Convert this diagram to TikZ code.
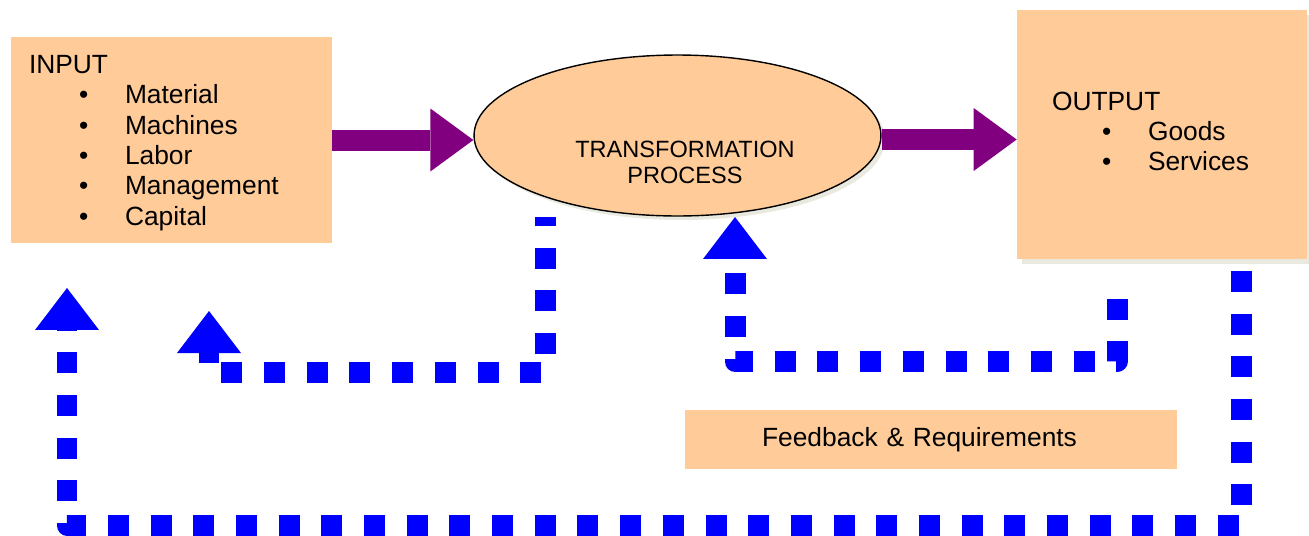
\documentclass[tikz,border=0pt]{standalone}
\usepackage{fontspec}
\setmainfont{Liberation Sans}
\usepackage{tikz}
\usetikzlibrary{arrows.meta}
\usetikzlibrary{shapes.geometric,shadows}
\usetikzlibrary{calc}
\definecolor{peach}{HTML}{FFCC99}
\definecolor{plum}{HTML}{800080}
\definecolor{shadowgray}{HTML}{EAE9DF}
\newcommand{\bul}[1]{\hspace*{1cm}\makebox[0.92cm][l]{\textbullet}#1}

\begin{document}
\begin{tikzpicture}[x=0.02cm,y=-0.02cm]
    \tikzstyle{box}=[rectangle,fill=peach,inner ysep=0pt,align=left,font=\fontsize{15}{17.3}\selectfont]
    \tikzstyle{boxtext}=[inner ysep=0pt,align=left,font=\fontsize{15}{17.3}\selectfont]
    \tikzstyle{shadowed}=[drop shadow={fill=shadowgray,opacity=1,shadow xshift=0.1cm,shadow yshift=-0.1cm}]
    \tikzstyle{flow}=[plum,line width=0.42cm,-{Triangle[width=1.26cm,length=0.86cm,line width=0pt]}]
    \tikzstyle{fback}=[blue,line width=0.42cm,line join=round,dash pattern=on 0.42cm off 0.434cm,-{Triangle[width=1.28cm,length=0.84cm,line width=0pt]}]
    \useasboundingbox (0,0) rectangle (1309,535);
    \node(in)[box,minimum width=6.42cm,minimum height=4.12cm] at (171.5,140) {};
    \node(intext)[boxtext,text width=5.7cm,inner xsep=0.36cm] at (171.5,143)
        {INPUT\\ \bul{Material}\\ \bul{Machines}\\ \bul{Labor}\\ \bul{Management}\\ \bul{Capital}};
    \node(tp)[ellipse,draw,line width=0.8pt,fill=peach,minimum width=8.14cm,minimum height=3.22cm,inner sep=0pt,
        drop shadow={fill=shadowgray,opacity=1,shadow xshift=0.08cm,shadow yshift=-0.08cm}] at (677.5,135.5) {};
    \node(tptext)[align=center,font=\fontsize{13.4}{14.7}\selectfont] at (685,162.5) {TRANSFORMATION\\PROCESS};
    \node(out)[box,shadowed,minimum width=5.8cm,minimum height=4.98cm] at (1162,134.5) {};
    \node(outtext)[boxtext,text width=4.4cm,inner xsep=0.7cm] at (1162,131.5)
        {OUTPUT\\ \bul{Goods}\\ \bul{Services}};
    \node(fb)[box,minimum width=9.84cm,minimum height=1.18cm,text width=6.76cm,inner xsep=1.54cm] at (931,439.5)
        {Feedback \& Requirements};
    \coordinate(s1) at (1241,271);
    \coordinate(e1) at (67,288);
    \coordinate(s2) at (545,217);
    \coordinate(e2) at (209,311);
    \coordinate(s3) at (1117,298.5);
    \coordinate(e3) at (735,217);
    \coordinate(t1) at (332,140);
    \coordinate(t2) at ([yshift=-0.08cm]tp.east);
    \draw[flow] (in.east) -- (in.east -| tp.west);
    \draw[flow] (t2) -- (t2 -| out.west);
    \draw[fback] (s1) -- (s1 |- 0,525) -| (e1);
    \draw[fback,dash phase=0.24cm] (s2) -- (s2 |- 0,372) -| (e2);
    \draw[fback] (s3) -- (s3 |- 0,361.5) -| (e3);
\end{tikzpicture}
\end{document}
